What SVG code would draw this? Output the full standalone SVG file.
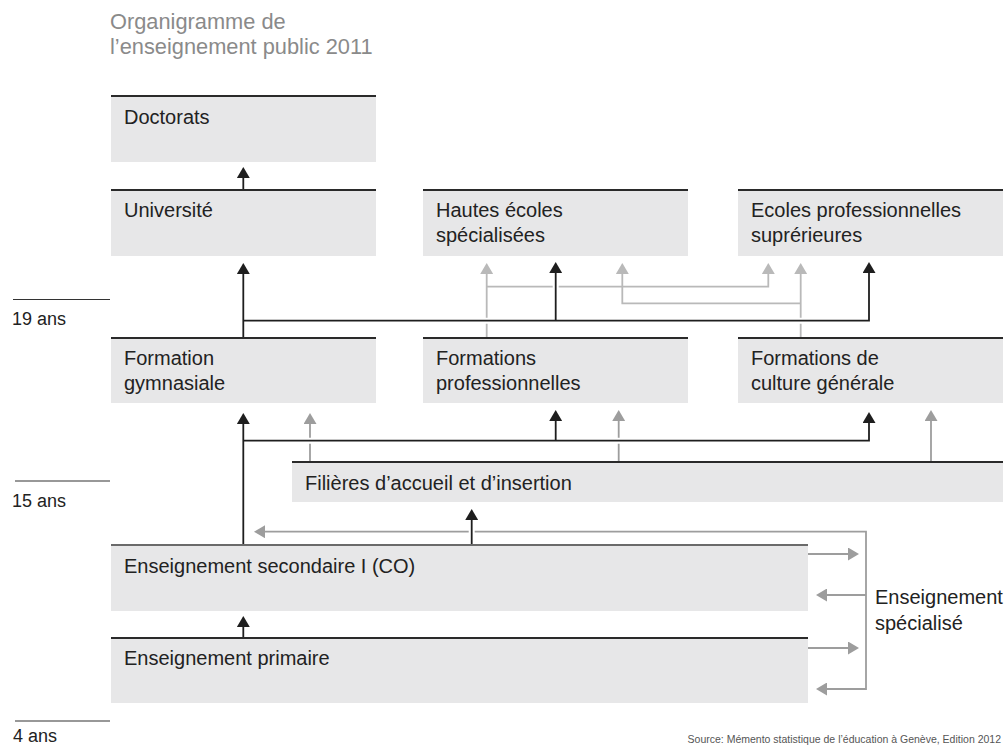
<svg xmlns="http://www.w3.org/2000/svg" width="1006" height="746" viewBox="0 0 1006 746">
<style>
text{font-family:"Liberation Sans",Arial,sans-serif}
.lbl{font-size:20px;fill:#222}
.age{font-size:18px;fill:#222}
.title{font-size:21.8px;fill:#8a8a8a}
.src{font-size:10.5px;fill:#555}
.box{fill:#e7e7e8}
.top{stroke:#2a2a2a;stroke-width:1.8}
.tick{stroke:#333;stroke-width:1.2}
.blk{fill:none;stroke:#1e1e1e;stroke-width:1.8}
.gl{fill:none;stroke:#b9b9b9;stroke-width:1.8}
.gd{fill:none;stroke:#9d9d9d;stroke-width:1.8}
.halo{fill:none;stroke:#fff;stroke-width:6}
</style>
<defs>
<marker id="ab" viewBox="0 0 11 13" refX="7" refY="6.5" markerWidth="11" markerHeight="13" markerUnits="userSpaceOnUse" orient="auto"><path d="M0,0 L11,6.5 L0,13 Z" fill="#1e1e1e"/></marker>
<marker id="agl" viewBox="0 0 11 13" refX="7" refY="6.5" markerWidth="11" markerHeight="13" markerUnits="userSpaceOnUse" orient="auto"><path d="M0,0 L11,6.5 L0,13 Z" fill="#b9b9b9"/></marker>
<marker id="agd" viewBox="0 0 11 13" refX="7" refY="6.5" markerWidth="11" markerHeight="13" markerUnits="userSpaceOnUse" orient="auto"><path d="M0,0 L11,6.5 L0,13 Z" fill="#9d9d9d"/></marker>
<marker id="agds" viewBox="0 0 11 13" refX="4" refY="6.5" markerWidth="11" markerHeight="13" markerUnits="userSpaceOnUse" orient="auto-start-reverse"><path d="M0,0 L11,6.5 L0,13 Z" fill="#9d9d9d"/></marker>
</defs>

<g id="title">
<text class="title" x="110" y="29">Organigramme de</text>
<text class="title" x="110" y="54">l’enseignement public 2011</text>
</g>

<g id="ages">
<line class="tick" x1="13" y1="299.5" x2="110" y2="299.5"/>
<text class="age" x="12" y="325">19 ans</text>
<line class="tick" x1="15" y1="481" x2="110" y2="481"/>
<text class="age" x="12" y="507">15 ans</text>
<line class="tick" x1="15" y1="721" x2="110" y2="721"/>
<text class="age" x="13" y="741.5">4 ans</text>
</g>

<g id="doctorats">
<rect class="box" x="111" y="96" width="265" height="66"/>
<line class="top" x1="111" y1="96" x2="376" y2="96"/>
<text class="lbl" x="124" y="124">Doctorats</text>
</g>
<g id="universite">
<rect class="box" x="111" y="190" width="265" height="66"/>
<line class="top" x1="111" y1="190" x2="376" y2="190"/>
<text class="lbl" x="124" y="217">Université</text>
</g>
<g id="hes">
<rect class="box" x="423" y="190" width="265" height="66"/>
<line class="top" x1="423" y1="190" x2="688" y2="190"/>
<text class="lbl" x="436" y="217">Hautes écoles</text>
<text class="lbl" x="436" y="242">spécialisées</text>
</g>
<g id="eps">
<rect class="box" x="738" y="190" width="265" height="66"/>
<line class="top" x1="738" y1="190" x2="1003" y2="190"/>
<text class="lbl" x="751" y="217">Ecoles professionnelles</text>
<text class="lbl" x="751" y="242">suprérieures</text>
</g>
<g id="gymnasiale">
<rect class="box" x="111" y="338" width="265" height="65"/>
<line class="top" x1="111" y1="338" x2="376" y2="338"/>
<text class="lbl" x="124" y="365">Formation</text>
<text class="lbl" x="124" y="390">gymnasiale</text>
</g>
<g id="prof">
<rect class="box" x="423" y="338" width="265" height="65"/>
<line class="top" x1="423" y1="338" x2="688" y2="338"/>
<text class="lbl" x="436" y="365">Formations</text>
<text class="lbl" x="436" y="390">professionnelles</text>
</g>
<g id="culture">
<rect class="box" x="738" y="338" width="265" height="65"/>
<line class="top" x1="738" y1="338" x2="1003" y2="338"/>
<text class="lbl" x="751" y="365">Formations de</text>
<text class="lbl" x="751" y="390">culture générale</text>
</g>
<g id="filieres">
<rect class="box" x="292" y="462" width="711" height="40"/>
<line class="top" x1="292" y1="462" x2="1003" y2="462"/>
<text class="lbl" x="305" y="490">Filières d’accueil et d’insertion</text>
</g>
<g id="secondaire">
<rect class="box" x="111" y="545" width="697" height="66"/>
<line x1="111" y1="545" x2="808" y2="545" stroke="#6a6a6a" stroke-width="1.8"/>
<text class="lbl" x="124" y="573">Enseignement secondaire I (CO)</text>
</g>
<g id="primaire">
<rect class="box" x="111" y="638" width="697" height="65"/>
<line class="top" x1="111" y1="638" x2="808" y2="638"/>
<text class="lbl" x="124" y="665">Enseignement primaire</text>
</g>
<g id="specialise">
<text class="lbl" x="875" y="604">Enseignement</text>
<text class="lbl" x="875" y="630">spécialisé</text>
</g>

<g id="connectors">
<path class="gl" d="M486.7,337 V267" marker-end="url(#agl)"/>
<path class="gl" d="M486.7,286.7 H768.3 V267" marker-end="url(#agl)"/>
<path class="gl" d="M800.7,337 V267" marker-end="url(#agl)"/>
<path class="gl" d="M800.7,303.3 H622.3 V267" marker-end="url(#agl)"/>
<path class="gd" d="M310,461 V417" marker-end="url(#agd)"/>
<path class="gd" d="M618.7,461 V414" marker-end="url(#agd)"/>
<path class="gd" d="M931,461 V414" marker-end="url(#agd)"/>
<path class="gd" d="M261,531.7 H866 V689 H820" marker-start="url(#agds)" marker-end="url(#agd)"/>
<path class="gd" d="M808,554 H855" marker-end="url(#agd)"/>
<path class="gd" d="M866,595 H820" marker-end="url(#agd)"/>
<path class="gd" d="M808,648 H855" marker-end="url(#agd)"/>
<path class="halo" d="M243.3,320.7 H869"/>
<path class="halo" d="M555.7,320.7 V268"/>
<path class="halo" d="M243.3,440.7 H869"/>
<path class="halo" d="M471.7,544 V514"/>
<path class="blk" d="M243.3,189 V171" marker-end="url(#ab)"/>
<path class="blk" d="M243.3,337 V267" marker-end="url(#ab)"/>
<path class="blk" d="M243.3,320.7 H869 V266" marker-end="url(#ab)"/>
<path class="blk" d="M555.7,320.7 V266" marker-end="url(#ab)"/>
<path class="blk" d="M243.3,544 V417" marker-end="url(#ab)"/>
<path class="blk" d="M243.3,440.7 H869 V416" marker-end="url(#ab)"/>
<path class="blk" d="M555.7,440.7 V414" marker-end="url(#ab)"/>
<path class="blk" d="M471.7,544 V513" marker-end="url(#ab)"/>
<path class="blk" d="M243.3,637 V620" marker-end="url(#ab)"/>
</g>

<text class="src" x="1001" y="743" text-anchor="end">Source: Mémento statistique de l’éducation à Genève, Edition 2012</text>
</svg>
